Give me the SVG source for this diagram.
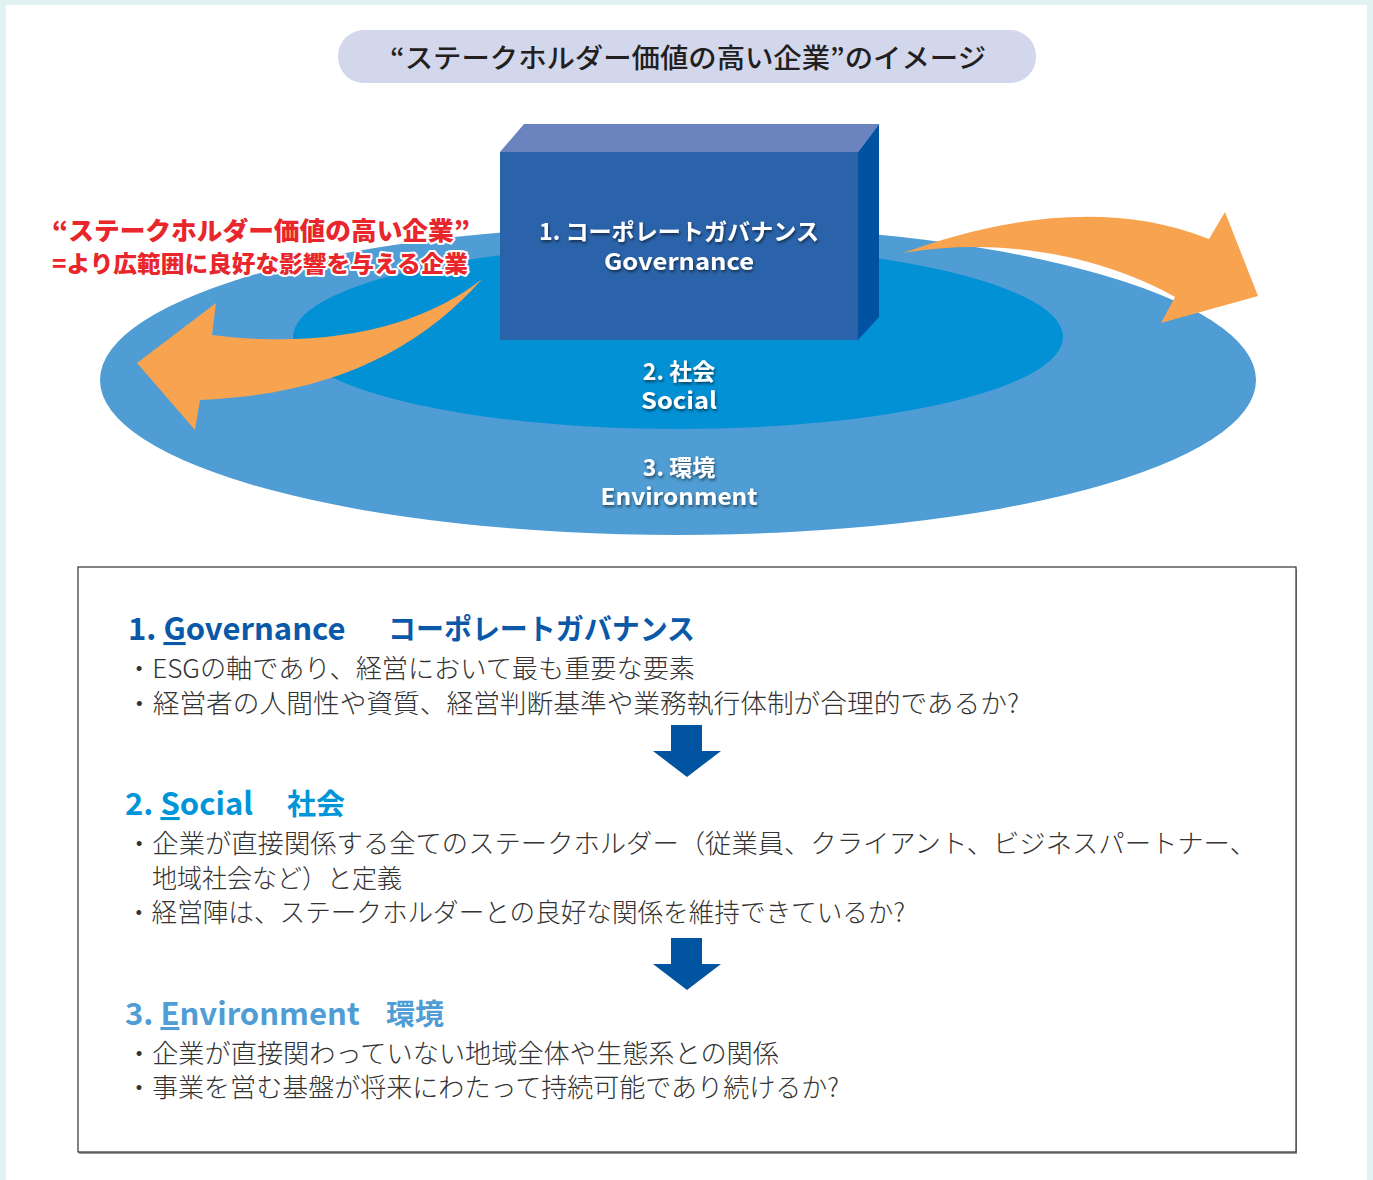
<svg xmlns="http://www.w3.org/2000/svg" width="1373" height="1180" viewBox="0 0 1373 1180">
<style>
.jp{font-family:"Noto Sans CJK JP","Noto Sans",sans-serif}
.lbl{font-family:"Noto Sans CJK JP","Noto Sans",sans-serif;font-weight:700;fill:#fff;text-anchor:middle;font-size:23px;filter:url(#sh)}
.red{font-family:"Noto Sans CJK JP",sans-serif;font-weight:900;fill:#e8262b;stroke:#fff;stroke-width:4px;stroke-linejoin:round;paint-order:stroke}
.h{font-family:"Noto Sans CJK JP","Noto Sans",sans-serif;font-weight:700;font-size:29px}
.lat{font-size:31px}
.b{font-family:"Noto Sans CJK JP",sans-serif;font-weight:300;font-size:26px;fill:#333}
.orange{fill:#f7a350}
.down{fill:#0054a0}
</style>
<defs>
<filter id="sh" x="-20%" y="-40%" width="140%" height="180%">
<feDropShadow dx="1" dy="2" stdDeviation="1.5" flood-color="#000" flood-opacity="0.55"/>
</filter>
</defs>
<rect x="0" y="0" width="1373" height="1180" fill="#e0f2f2"/>
<rect x="6" y="5" width="1361" height="1175" fill="#fff"/>

<g id="panel">
<rect x="79" y="569" width="1218" height="585" fill="#999"/>
<rect x="78" y="567" width="1218" height="585" fill="#fff" stroke="#333" stroke-width="1.2"/>
</g>

<g id="title">
<rect x="338" y="30" width="698" height="53" rx="26" fill="#d3d7ec"/>
<text class="jp" x="688" y="68" font-size="27" font-weight="500" fill="#231f20" text-anchor="middle" textLength="596" lengthAdjust="spacingAndGlyphs">“ステークホルダー価値の高い企業”のイメージ</text>
</g>

<g id="ring-environment">
<ellipse cx="678" cy="380" rx="578" ry="155" fill="#4f9dd4"/>
</g>
<g id="ring-social">
<ellipse cx="678" cy="337" rx="385" ry="92" fill="#0391d6"/>
</g>

<g id="connectors">
<path class="orange" d="M482,279 C425,325 330,350 212,335 L216,303 L137,363 L195,430 L200,400 C330,395 420,350 482,279 Z"/>
<path class="orange" d="M903,253 C980,225 1100,195 1209,239 L1225,212 L1258,296 L1161,323 L1175,297 C1110,260 1010,235 903,253 Z"/>
<path class="down" d="M671,725 H702 V751 H721 L687,777 L653,751 H671 Z"/>
<path class="down" d="M671,938 H702 V964 H721 L687,990 L653,964 H671 Z"/>
</g>

<g id="box-governance">
<polygon points="500,152 524,124 879,124 858,152" fill="#6b83bf"/>
<polygon points="858,152 879,124 879,317 858,340" fill="#0152a0"/>
<rect x="500" y="152" width="358" height="188" fill="#2b63aa"/>
<text class="lbl" x="679" y="240" textLength="280" lengthAdjust="spacingAndGlyphs">1. コーポレートガバナンス</text>
<text class="lbl" x="679" y="270" textLength="150" lengthAdjust="spacingAndGlyphs">Governance</text>
</g>

<g id="label-social">
<text class="lbl" x="679" y="380">2. 社会</text>
<text class="lbl" x="679" y="409" textLength="76" lengthAdjust="spacingAndGlyphs">Social</text>
</g>
<g id="label-environment">
<text class="lbl" x="679" y="476">3. 環境</text>
<text class="lbl" x="679" y="505" textLength="157" lengthAdjust="spacingAndGlyphs">Environment</text>
</g>

<g id="caption">
<text class="red" x="52" y="240" font-size="25" textLength="418" lengthAdjust="spacingAndGlyphs">“ステークホルダー価値の高い企業”</text>
<text class="red" x="52" y="272" font-size="22.5" textLength="416" lengthAdjust="spacingAndGlyphs">=より広範囲に良好な影響を与える企業</text>
</g>

<g id="section-governance">
<text class="h" y="640" fill="#0a58a8"><tspan class="lat" x="128">1. </tspan><tspan class="lat" style="text-decoration:underline">G</tspan><tspan class="lat">overnance</tspan><tspan x="388" textLength="307" lengthAdjust="spacingAndGlyphs">コーポレートガバナンス</tspan></text>
<text class="b" x="126" y="678" textLength="569" lengthAdjust="spacingAndGlyphs">・ESGの軸であり、経営において最も重要な要素</text>
<text class="b" x="126" y="713" textLength="893" lengthAdjust="spacingAndGlyphs">・経営者の人間性や資質、経営判断基準や業務執行体制が合理的であるか?</text>
</g>

<g id="section-social">
<text class="h" y="815" fill="#0095d9"><tspan class="lat" x="125">2. </tspan><tspan class="lat" style="text-decoration:underline">S</tspan><tspan class="lat">ocial</tspan><tspan x="287">社会</tspan></text>
<text class="b" x="126" y="853" textLength="1130" lengthAdjust="spacingAndGlyphs">・企業が直接関係する全てのステークホルダー（従業員、クライアント、ビジネスパートナー、</text>
<text class="b" x="152" y="888" textLength="250" lengthAdjust="spacingAndGlyphs">地域社会など）と定義</text>
<text class="b" x="126" y="922" textLength="779" lengthAdjust="spacingAndGlyphs">・経営陣は、ステークホルダーとの良好な関係を維持できているか?</text>
</g>

<g id="section-environment">
<text class="h" y="1025" fill="#4f9dd4"><tspan class="lat" x="125">3. </tspan><tspan class="lat" style="text-decoration:underline">E</tspan><tspan class="lat">nvironment</tspan><tspan x="386">環境</tspan></text>
<text class="b" x="126" y="1063" textLength="653" lengthAdjust="spacingAndGlyphs">・企業が直接関わっていない地域全体や生態系との関係</text>
<text class="b" x="126" y="1097" textLength="713" lengthAdjust="spacingAndGlyphs">・事業を営む基盤が将来にわたって持続可能であり続けるか?</text>
</g>
</svg>
